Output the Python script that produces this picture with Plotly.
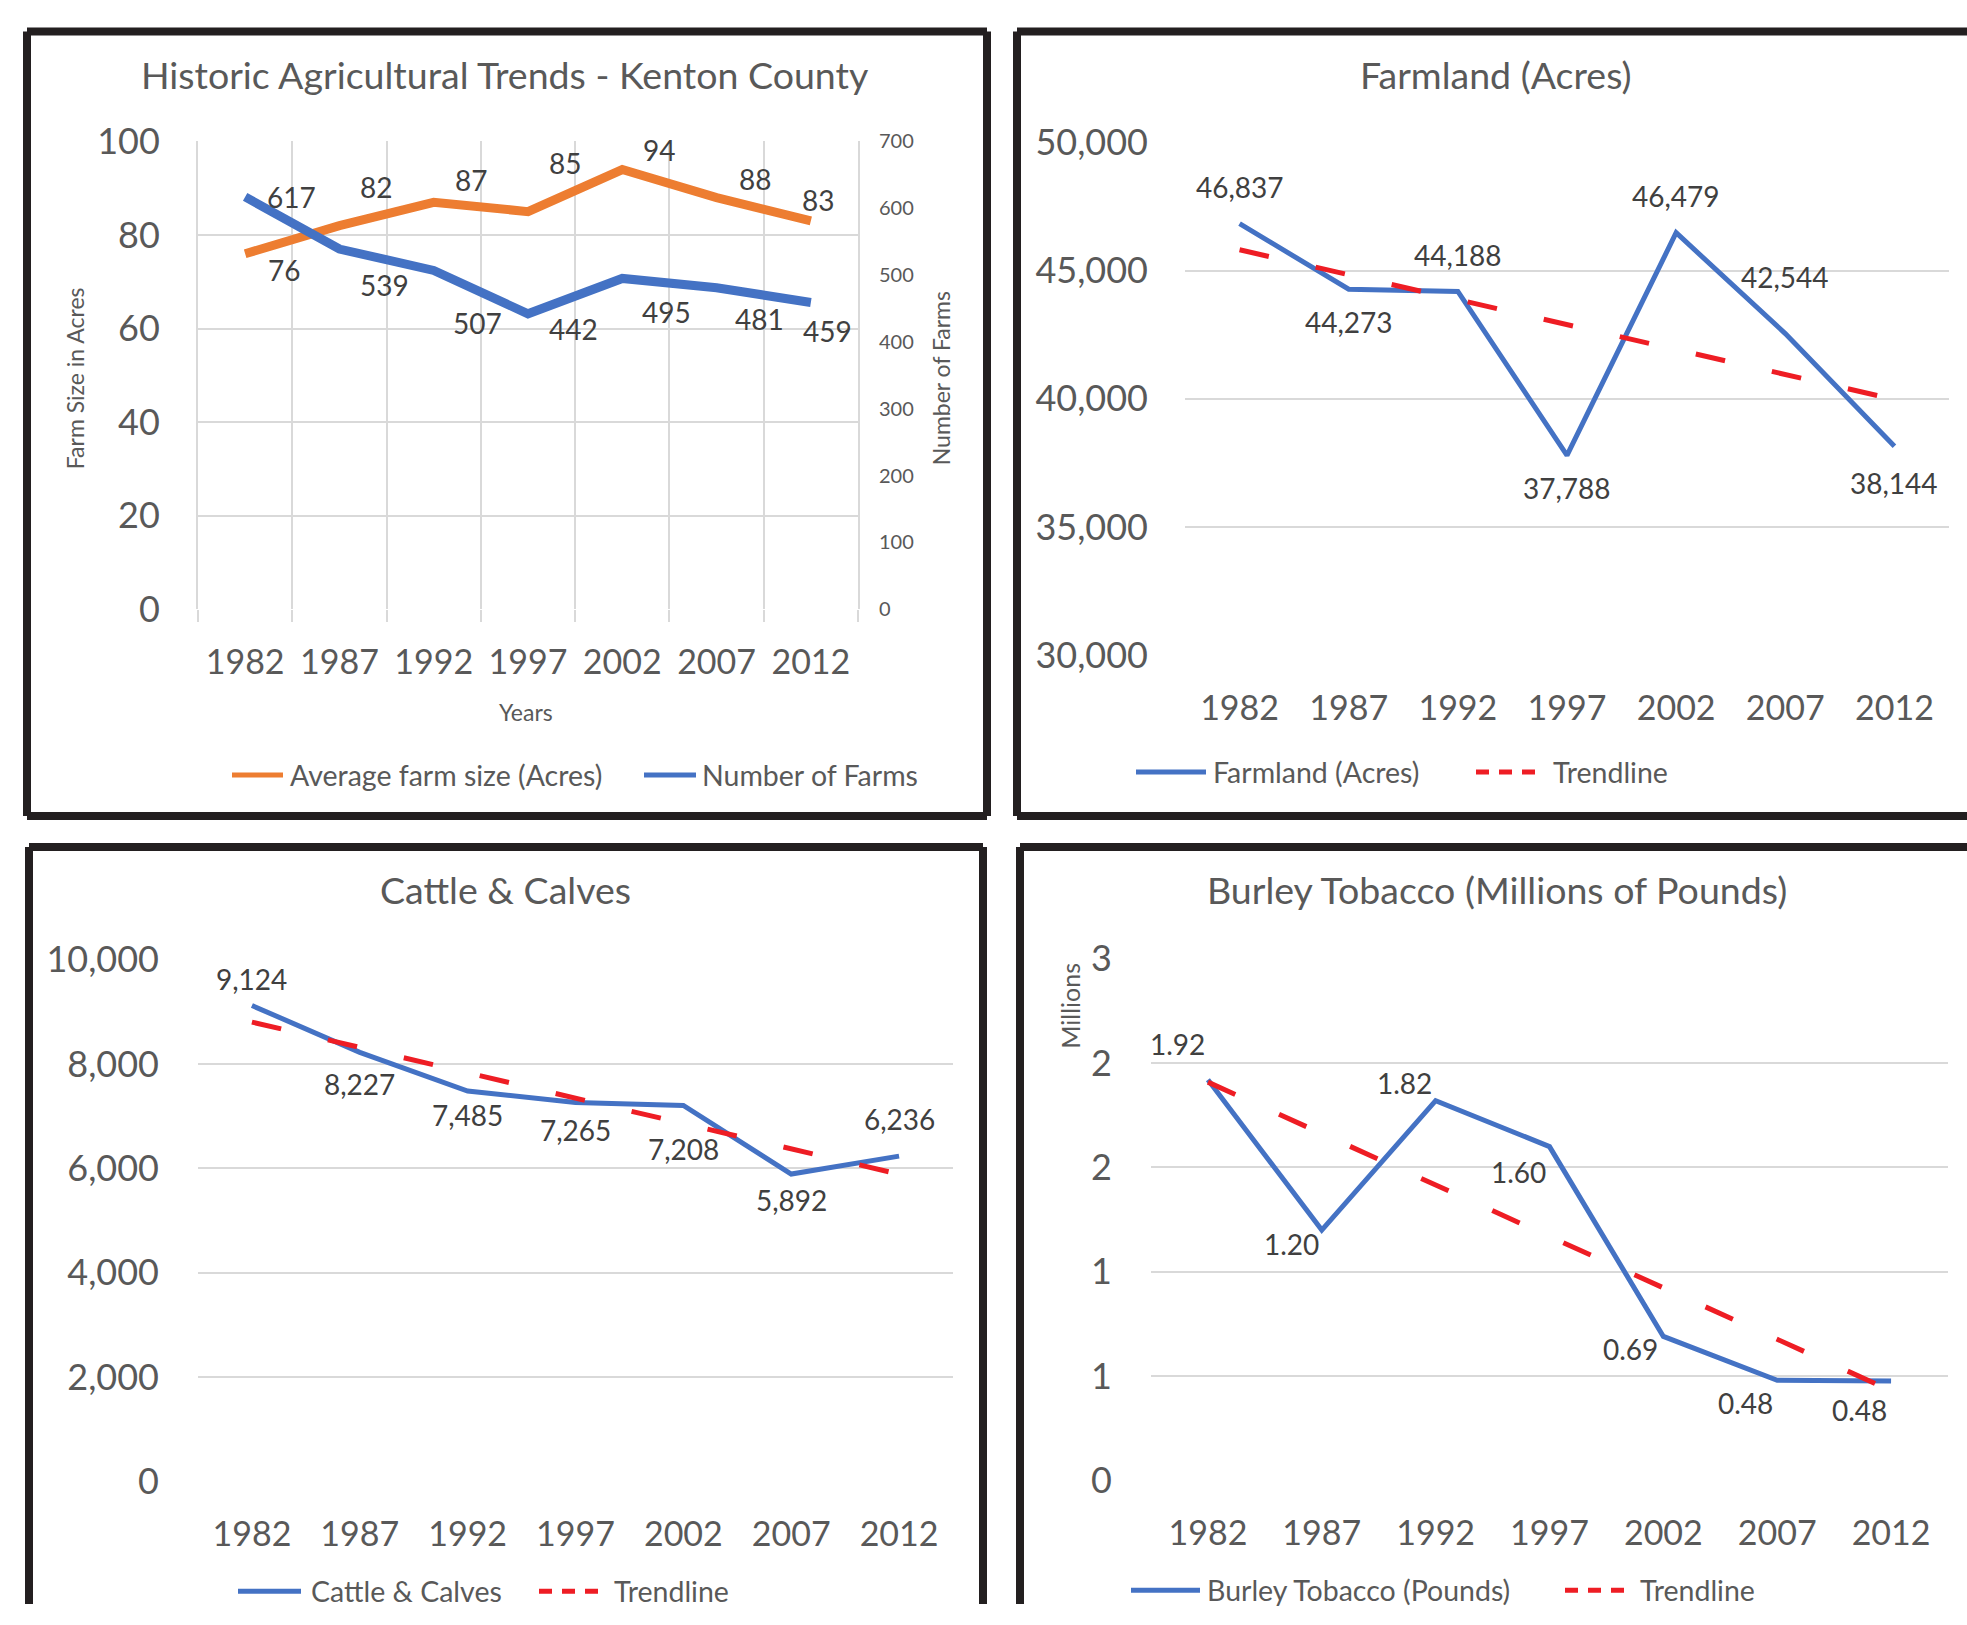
import numpy as np
import plotly.graph_objects as go

# ---------------- data ----------------
years = ["1982", "1987", "1992", "1997", "2002", "2007", "2012"]
avg_farm_size = [76, 82, 87, 85, 94, 88, 83]
num_farms = [617, 539, 507, 442, 495, 481, 459]
farmland = [46837, 44273, 44188, 37788, 46479, 42544, 38144]
cattle = [9124, 8227, 7485, 7265, 7208, 5892, 6236]
tobacco = [1.92, 1.20, 1.82, 1.60, 0.69, 0.48, 0.476]
tobacco_tickvals = [0, 0.5, 1, 1.5, 2, 2.5]
tobacco_ticktext = ["0", "1", "1", "2", "2", "3"]

titles = ["Historic Agricultural Trends - Kenton County", "Farmland (Acres)",
          "Cattle & Calves", "Burley Tobacco (Millions of Pounds)"]
series_names = ["Average farm size (Acres)", "Number of Farms", "Farmland (Acres)",
                "Cattle & Calves", "Burley Tobacco (Pounds)", "Trendline"]

# ---------------- style ----------------
W, H = 1967, 1625
# vertical calibration: the captured picture pads the page above and below,
# so reference y positions are mapped onto page y positions.
KY, CY = 1.027, 22.0
FONT = "Lato, 'Open Sans', sans-serif"
TXT = "#595959"
LBL = "#404040"
GRID = "#D9D9D9"
ORANGE = "#ED7D31"
BLUE = "#4472C4"
RED = "#EE1D24"


def px(x):
    return x / W


def page_y(y):
    return min(max(KY * y - CY, 0), H)


def py(y):
    return 1 - page_y(y) / H


def trend(vals):
    idx = np.arange(len(vals))
    m, b = np.polyfit(idx, np.asarray(vals, dtype=float), 1)
    return m * idx + b


fig = go.Figure()

# panel 1
fig.add_trace(go.Scatter(x=years, y=avg_farm_size, mode="lines", name=series_names[0],
                         line=dict(color=ORANGE, width=9), xaxis="x", yaxis="y"))
fig.add_trace(go.Scatter(x=years, y=num_farms, mode="lines", name=series_names[1],
                         line=dict(color=BLUE, width=9), xaxis="x", yaxis="y2"))
# panel 2
fig.add_trace(go.Scatter(x=years, y=farmland, mode="lines", name=series_names[2],
                         line=dict(color=BLUE, width=5), xaxis="x2", yaxis="y3"))
fig.add_trace(go.Scatter(x=years, y=trend(farmland), mode="lines", name=series_names[5],
                         line=dict(color=RED, width=5, dash="30px,48px"), xaxis="x2", yaxis="y3"))
# panel 3
fig.add_trace(go.Scatter(x=years, y=cattle, mode="lines", name=series_names[3],
                         line=dict(color=BLUE, width=5), xaxis="x3", yaxis="y4"))
fig.add_trace(go.Scatter(x=years, y=trend(cattle), mode="lines", name=series_names[5],
                         line=dict(color=RED, width=5, dash="30px,48px"), xaxis="x3", yaxis="y4"))
# panel 4
fig.add_trace(go.Scatter(x=years, y=tobacco, mode="lines", name=series_names[4],
                         line=dict(color=BLUE, width=5), xaxis="x4", yaxis="y5"))
fig.add_trace(go.Scatter(x=years, y=trend(tobacco), mode="lines", name=series_names[5],
                         line=dict(color=RED, width=5, dash="30px,48px"), xaxis="x4", yaxis="y5"))

# ---------------- axes ----------------
def xax(dom, anchor, boundaries=False, standoff=30):
    d = dict(domain=[px(dom[0]), px(dom[1])], anchor=anchor, type="category",
             range=[-0.5, 6.5], tickfont=dict(family=FONT, size=34, color=TXT),
             zeroline=False, showline=False, fixedrange=True, ticklabelstandoff=standoff)
    if boundaries:
        d.update(showgrid=True, gridcolor=GRID, gridwidth=2, tickson="boundaries",
                 ticks="outside", ticklen=12, tickcolor=GRID, tickwidth=2)
    else:
        d.update(showgrid=False, ticks="")
    return d


def yax(dom, anchor, rng, dtick=None, size=36, grid=True, standoff=36, **kw):
    d = dict(domain=[py(dom[1]), py(dom[0])], anchor=anchor, range=rng,
             tickfont=dict(family=FONT, size=size, color=TXT), showgrid=grid,
             gridcolor=GRID, gridwidth=2, zeroline=False, showline=False,
             ticks="", ticklabelstandoff=standoff, fixedrange=True)
    if dtick is not None:
        d["dtick"] = dtick
    d.update(kw)
    return d


fig.update_layout(
    xaxis=xax((198, 858), "y", boundaries=True, standoff=30),
    yaxis=yax((140, 608), "x", [0, 100], 20, standoff=29,
              showline=True, mirror=True, linecolor=GRID, linewidth=2),
    yaxis2=yax((140, 608), "x", [0, 700], 100, size=20, grid=False, standoff=20,
               overlaying="y", side="right"),
    xaxis2=xax((1185, 1949), "y3", standoff=30),
    yaxis3=yax((141, 654), "x2", [30000, 50000], 5000, tickformat=",", standoff=36),
    xaxis3=xax((198, 953), "y4", standoff=30),
    yaxis4=yax((959, 1481), "x3", [0, 10000], 2000, tickformat=",", standoff=38),
    xaxis4=xax((1151, 1948), "y5", standoff=30),
    yaxis5=yax((958, 1480), "x4", [0, 2.5], tickmode="array", tickvals=tobacco_tickvals,
               ticktext=tobacco_ticktext, standoff=38),
)

# ---------------- data labels ----------------
ann = []


def labels(xref, yref, vals, fmt, offsets):
    for i, (v, (dx, dy)) in enumerate(zip(vals, offsets)):
        ann.append(dict(x=i, y=v, xref=xref, yref=yref, text=fmt.format(v), showarrow=False,
                        xshift=dx, yshift=-dy * KY, xanchor="center", yanchor="middle",
                        font=dict(family=FONT, size=28, color=LBL)))


labels("x", "y", avg_farm_size, "{:d}",
       [(39, 16), (37, -38), (37, -22), (37, -47), (37, -19), (38, -18), (7, -20)])
labels("x", "y2", num_farms, "{:d}",
       [(46, 0), (45, 35), (44, 51), (45, 15), (44, 33), (43, 30), (17, 28)])
labels("x2", "y3", farmland, "{:,}",
       [(0, -36), (0, 32), (0, -35), (0, 32), (0, -36), (0, -55), (0, 36)])
labels("x3", "y4", cattle, "{:,}",
       [(0, -26), (0, 31), (0, 23), (0, 27), (0, 42), (0, 25), (0, -36)])
labels("x4", "y5", tobacco, "{:.2f}",
       [(-30, -35), (-30, 14), (-31, -17), (-31, 25), (-33, 12), (-32, 22), (-32, 28)])

# ---------------- titles ----------------
title_pos = [(505, 73), (1496, 73), (505, 889), (1497, 889)]
for t, (x, y) in zip(titles, title_pos):
    ann.append(dict(x=px(x), y=py(y), xref="paper", yref="paper", text=t, showarrow=False,
                    xanchor="center", yanchor="middle",
                    font=dict(family=FONT, size=37.5, color=TXT)))

axis_titles = [("Farm Size in Acres", 75, 377, -90, 23), ("Number of Farms", 941, 377, -90, 23),
               ("Years", 526, 711, 0, 23), ("Millions", 1070, 1005, -90, 25)]
for t, x, y, ang, fs in axis_titles:
    ann.append(dict(x=px(x), y=py(y), xref="paper", yref="paper", text=t, showarrow=False,
                    xanchor="center", yanchor="middle", textangle=ang,
                    font=dict(family=FONT, size=fs, color=TXT)))

# ---------------- legends (manual) ----------------
shapes = []
legend_items = [
    (series_names[0], ORANGE, "solid", 232, 283, 288, 774),
    (series_names[1], BLUE, "solid", 644, 696, 700, 774),
    (series_names[2], BLUE, "solid", 1136, 1206, 1211, 771),
    (series_names[5], RED, "13px,10px", 1476, 1538, 1551, 771),
    (series_names[3], BLUE, "solid", 238, 301, 309, 1591),
    (series_names[5], RED, "13px,10px", 539, 598, 612, 1591),
    (series_names[4], BLUE, "solid", 1131, 1200, 1205, 1590),
    (series_names[5], RED, "13px,10px", 1565, 1624, 1638, 1590),
]
for name, col, dash, x0, x1, tx, y in legend_items:
    shapes.append(dict(type="line", xref="paper", yref="paper", x0=px(x0), x1=px(x1),
                       y0=py(y), y1=py(y), line=dict(color=col, width=5, dash=dash)))
    ann.append(dict(x=px(tx), y=py(y), xref="paper", yref="paper", text=name, showarrow=False,
                    xanchor="left", yanchor="middle",
                    font=dict(family=FONT, size=28.5, color=TXT)))

# ---------------- panel borders ----------------
BW = 8
BOTTOM = 1700  # beyond the page; clamped by page_y
border_segments = [
    (27, 30, 987, 30), (27, 30, 27, 815), (987, 30, 987, 815), (27, 815, 987, 815),
    (1017, 30, W, 30), (1017, 30, 1017, 815), (1017, 815, W, 815),
    (29, 846, 983, 846), (29, 846, 29, BOTTOM), (983, 846, 983, BOTTOM),
    (1020, 846, W, 846), (1020, 846, 1020, BOTTOM),
]
for x0, y0, x1, y1 in border_segments:
    shapes.append(dict(type="line", xref="paper", yref="paper", x0=px(x0), x1=px(x1),
                       y0=py(y0), y1=py(y1), line=dict(color="#231F20", width=BW)))

fig.update_layout(
    autosize=True, margin=dict(l=0, r=0, t=0, b=0, pad=0),
    paper_bgcolor="white", plot_bgcolor="white", showlegend=False,
    annotations=ann, shapes=shapes, font=dict(family=FONT, color=TXT),
)

post = """
var st = document.createElement('style');
st.innerHTML = 'html,body{margin:0!important;padding:0!important;overflow:hidden!important;}';
document.head.appendChild(st);
var gd = document.getElementById('{plot_id}');
gd.style.position = 'absolute'; gd.style.top = '0px'; gd.style.left = '0px';
gd.style.width = '100vw'; gd.style.height = '100vh';
return Plotly.Plots.resize(gd);
"""

fig.write_html("out.html", default_width="100vw", default_height="100vh",
               post_script=post, config={"displayModeBar": False, "responsive": True})
